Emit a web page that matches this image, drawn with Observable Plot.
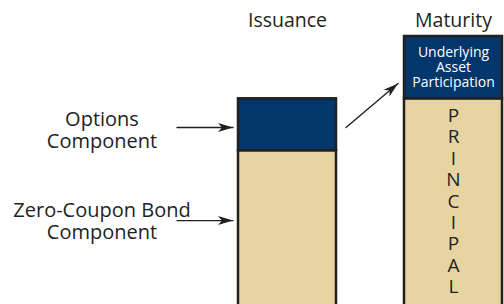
<!DOCTYPE html>
<html><head><meta charset="utf-8">
<script src="https://cdn.jsdelivr.net/npm/d3@7"></script>
<script src="https://cdn.jsdelivr.net/npm/@observablehq/plot@0.6"></script>
<style>html,body{margin:0;padding:0;background:#fff;overflow:hidden}</style>
</head><body><div id="chart"></div>
<script>
// ---- data ----
const stages = ["Issuance", "Maturity"];
const components = ["Zero-Coupon Bond", "Options", "Principal", "Underlying Asset Participation"];
const componentStage = ["Issuance", "Issuance", "Maturity", "Maturity"];
const componentValues = [75, 25, 100, 30];
const componentKind = ["base", "upside", "base", "upside"];
const barLabels = ["", "", "P\nR\nI\nN\nC\nI\nP\nA\nL", "Underlying\nAsset\nParticipation"];
const sideLabels = ["Zero-Coupon Bond\nComponent", "Options\nComponent", "", ""];
const labelColumn = " ";

// ---- styles ----
const ink = "#231f20", navy = "#03366a", tan = "#e8d4a2";

const rows = components.map((c, i) => ({
  stage: componentStage[i], component: c, value: componentValues[i],
  kind: componentKind[i], label: barLabels[i], side: sideLabels[i]
}));
const cum = {};
rows.forEach(r => { const b = cum[r.stage] || 0; r.mid = b + r.value / 2; r.top = b + r.value; cum[r.stage] = r.top; });
const byName = name => rows.filter(r => r.component === name);

const stealth = {draw(ctx) { ctx.moveTo(0, 0); ctx.lineTo(-15, -4.5); ctx.lineTo(-11, 0); ctx.lineTo(-15, 4.5); ctx.closePath(); }};

function sideAnnotation(name, textDy, arrowDy) {
  const d = byName(name);
  return [
    Plot.text(d, {x: () => labelColumn, y: "mid", text: "side", dx: -19.5, dy: textDy, fontSize: 20, lineHeight: 1.1, fill: ink}),
    Plot.arrow(d, {x1: () => labelColumn, x2: "stage", y1: "mid", y2: "mid", dy: arrowDy, insetStart: 55.5, insetEnd: 54.5, headLength: 0, stroke: ink, strokeWidth: 1.4}),
    Plot.dot(d, {x: "stage", y: "mid", dx: -54.5, dy: arrowDy, symbol: stealth, r: 5, fill: ink, stroke: "none"})
  ];
}

const chart = Plot.plot({
  width: 504, height: 304,
  marginTop: 36, marginLeft: 71.5, marginRight: 2.5, marginBottom: 0,
  style: {fontFamily: "'Open Sans', sans-serif", color: ink, background: "#fff", overflow: "hidden"},
  x: {type: "band", domain: [labelColumn, ...stages], range: [71.5, 501.5], paddingInner: 0.41, paddingOuter: 0, align: 0.5},
  y: {domain: [0, 130], range: [306, 36], axis: null},
  marks: [
    Plot.barY(rows, {x: "stage", y: "value", fill: d => d.kind === "upside" ? navy : tan, stroke: ink, strokeWidth: 2.5}),
    Plot.axisX({anchor: "top", ticks: stages, tickSize: 0, tickPadding: 10, fontSize: 19.5, label: null, fill: ink}),
    Plot.text(byName("Principal"), {x: "stage", y: "mid", text: "label", fontSize: 19, lineHeight: 1.126, dy: -2, fill: ink}),
    Plot.text(byName("Underlying Asset Participation"), {x: "stage", y: "mid", text: "label", fontSize: 14, lineHeight: 1.07, fill: "#fff"}),
    ...sideAnnotation("Options", 5.3, 2.7),
    ...sideAnnotation("Zero-Coupon Bond", -7.5, -8),
    Plot.arrow([0], {x1: () => "Issuance", y1: () => 62.35, x2: () => "Maturity", y2: () => 130, insetStart: 76.6, insetEnd: 72.7, headLength: 0, stroke: ink, strokeWidth: 1.4}),
    Plot.dot([0], {x: () => "Maturity", y: () => 130, dx: -55.5, dy: 47, rotate: -40.2, symbol: stealth, r: 5, fill: ink, stroke: "none"})
  ]
});
document.getElementById("chart").append(chart);
</script>
</body></html>
